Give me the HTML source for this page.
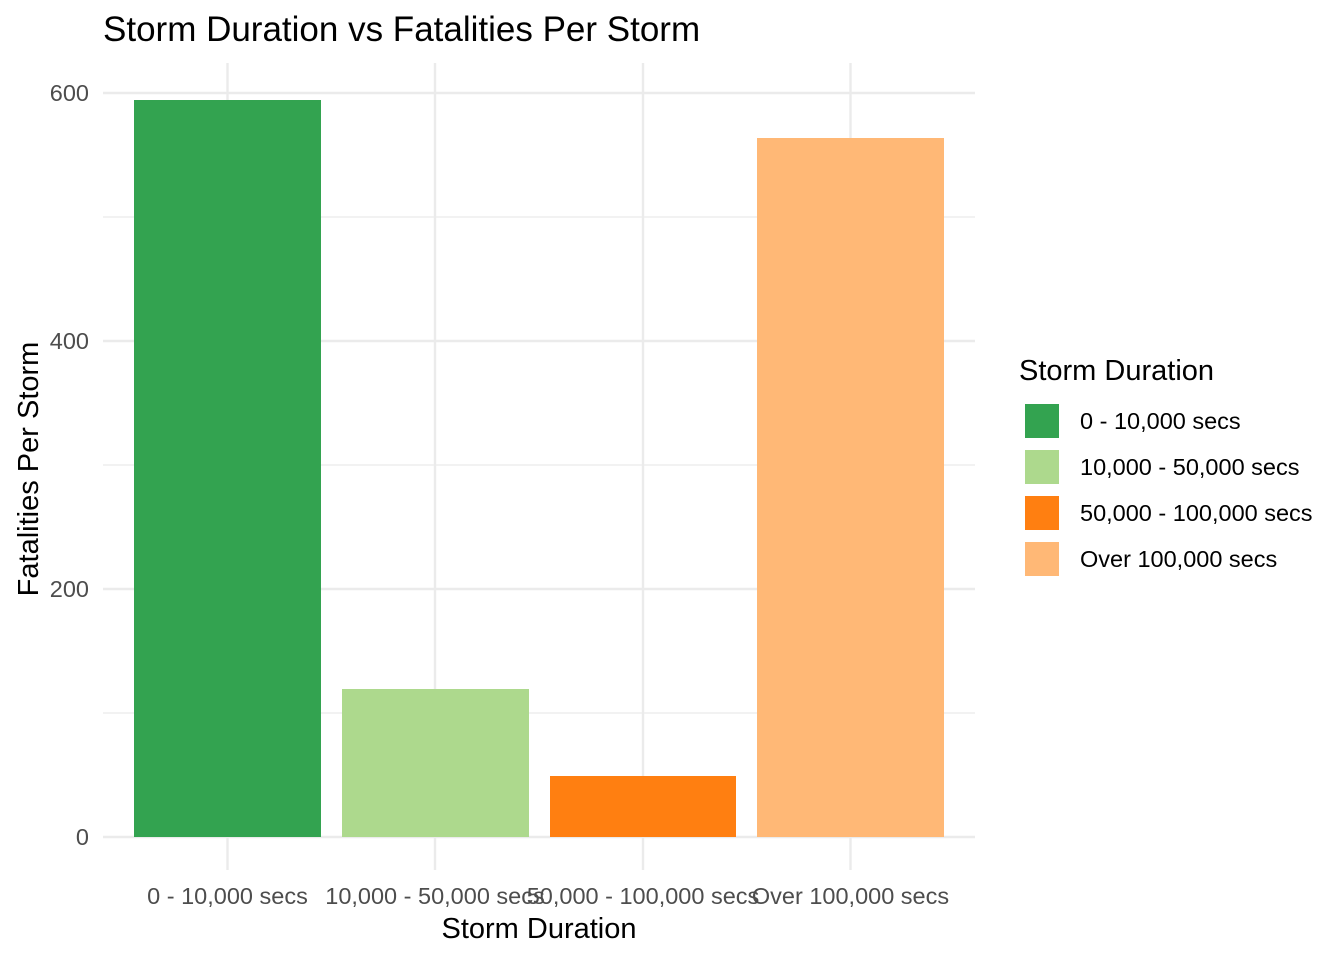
<!DOCTYPE html>
<html><head><style>body{margin:0;background:#fff}</style></head><body>
<svg width="1344" height="960" xmlns="http://www.w3.org/2000/svg" font-family="Liberation Sans, sans-serif">
<rect width="1344" height="960" fill="#fff"/>
<g stroke="#ebebeb" stroke-width="1.2">
<line x1="103" x2="975" y1="713" y2="713"/><line x1="103" x2="975" y1="465" y2="465"/><line x1="103" x2="975" y1="217" y2="217"/>
</g>
<g stroke="#ebebeb" stroke-width="2.4">
<line x1="103" x2="975" y1="837" y2="837"/><line x1="103" x2="975" y1="589" y2="589"/><line x1="103" x2="975" y1="341" y2="341"/><line x1="103" x2="975" y1="93" y2="93"/>
<line x1="227.5" x2="227.5" y1="63" y2="870"/><line x1="435" x2="435" y1="63" y2="870"/><line x1="643" x2="643" y1="63" y2="870"/><line x1="850.5" x2="850.5" y1="63" y2="870"/>
</g>
<rect x="134" y="100" width="187" height="737" fill="#33a350"/>
<rect x="342" y="689" width="187" height="148" fill="#add98d"/>
<rect x="550" y="776" width="186" height="61" fill="#ff7f11"/>
<rect x="757" y="138" width="187" height="699" fill="#ffb876"/>
<g fill="#4d4d4d" font-size="23.5" text-anchor="end">
<text x="89" y="845">0</text><text x="89" y="597">200</text><text x="89" y="349">400</text><text x="89" y="101">600</text>
</g>
<g fill="#4d4d4d" font-size="23.5" text-anchor="middle">
<text x="227.5" y="904">0 - 10,000 secs</text><text x="435" y="904">10,000 - 50,000 secs</text><text x="643" y="904">50,000 - 100,000 secs</text><text x="850.5" y="904">Over 100,000 secs</text>
</g>
<text x="539" y="938" font-size="29" text-anchor="middle">Storm Duration</text>
<text transform="translate(38,469) rotate(-90)" font-size="29" text-anchor="middle">Fatalities Per Storm</text>
<text x="103" y="41" font-size="35">Storm Duration vs Fatalities Per Storm</text>
<text x="1019" y="380" font-size="29">Storm Duration</text>
<rect x="1025" y="404" width="34" height="34" fill="#33a350"/>
<rect x="1025" y="450" width="34" height="34" fill="#add98d"/>
<rect x="1025" y="496" width="34" height="34" fill="#ff7f11"/>
<rect x="1025" y="542" width="34" height="34" fill="#ffb876"/>
<g font-size="23.5">
<text x="1080" y="429">0 - 10,000 secs</text><text x="1080" y="475">10,000 - 50,000 secs</text><text x="1080" y="521">50,000 - 100,000 secs</text><text x="1080" y="567">Over 100,000 secs</text>
</g>
</svg>
</body></html>
